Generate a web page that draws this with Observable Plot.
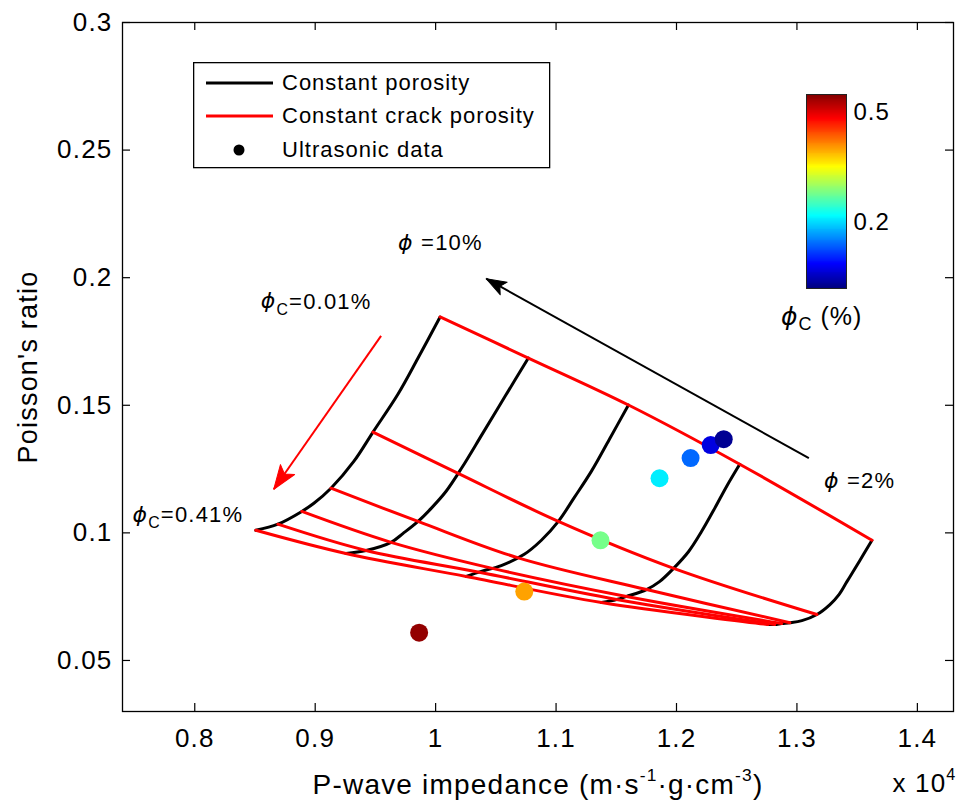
<!DOCTYPE html>
<html>
<head>
<meta charset="utf-8">
<script src="https://cdn.jsdelivr.net/npm/d3@7"></script>
<script src="https://cdn.jsdelivr.net/npm/@observablehq/plot@0.6"></script>
<style>
  html, body { margin: 0; padding: 0; background: #fff; }
  #chart { position: relative; width: 961px; height: 808px; font-family: "Liberation Sans", Arial, sans-serif; }
  #chart > svg { position: absolute; left: 0; top: 0; }
  .legend { position: absolute; left: 193px; top: 62px; }
  .colorbar { position: absolute; left: 806px; top: 92px; }
  .cb-label { position: absolute; left: 781px; top: 304px; font-size: 25px; letter-spacing: 1px; line-height: 25px; white-space: nowrap; }
  .cb-label i { font-family: "DejaVu Sans", sans-serif; }
  .cb-label sub { font-size: 72%; vertical-align: -0.3em; }
</style>
</head>
<body>
<div id="chart"></div>
<script>
// P-wave impedance in units of 10^4 m·s^-1·g·cm^-3, Poisson's ratio dimensionless.

// Porosity (%) of each constant-porosity curve, and crack porosity (%) of each constant-crack-porosity curve
const porosity = [10, 8, 6, 4, 2];
const crackPorosity = [0.01, 0.09, 0.17, 0.25, 0.33, 0.41];

// Constant porosity curves: [impedance, Poisson's ratio]
const phi10 = [[1.0037, 0.1846], [0.9854, 0.1685], [0.9688, 0.1544], [0.948, 0.1395], [0.9322, 0.1281],
               [0.9131, 0.1175], [0.8989, 0.1116], [0.8889, 0.1084], [0.869, 0.1034], [0.8507, 0.101]];
const phi8 = [[1.077, 0.1685], [1.0578, 0.1536], [1.0387, 0.1387], [1.022, 0.1257], [1.0087, 0.1163],
              [0.9963, 0.1096], [0.9854, 0.1045], [0.973, 0.0998], [0.963, 0.0963], [0.9422, 0.0931],
              [0.9255, 0.0919]];
const phi6 = [[1.1601, 0.1501], [1.1443, 0.1367], [1.1294, 0.1242], [1.1152, 0.1139], [1.1019, 0.1045],
              [1.0878, 0.0971], [1.0736, 0.0916], [1.0545, 0.0872], [1.0379, 0.0849], [1.0254, 0.0829]];
const phi4 = [[1.2525, 0.1269], [1.2417, 0.1183], [1.2317, 0.1096], [1.2209, 0.1006], [1.2101, 0.0927],
              [1.1976, 0.0861], [1.1859, 0.0809], [1.1751, 0.0778], [1.1585, 0.0751], [1.1502, 0.0739],
              [1.1377, 0.0727]];
const phi2 = [[1.3623, 0.0971], [1.3557, 0.0919], [1.3482, 0.086], [1.3415, 0.0809], [1.3349, 0.0758],
              [1.3274, 0.0719], [1.3166, 0.068], [1.3041, 0.0656], [1.2941, 0.0648], [1.2874, 0.0645],
              [1.2816, 0.0641], [1.2758, 0.0641]];

// Constant crack porosity curves: [impedance, Poisson's ratio]
const phiC001 = [[1.0037, 0.1846], [1.077, 0.1685], [1.1601, 0.1501], [1.2525, 0.1269], [1.3623, 0.0971]];
const phiC009 = [[0.948, 0.1395], [1.0187, 0.1233], [1.1019, 0.1045], [1.1976, 0.0861], [1.3166, 0.068]];
const phiC017 = [[0.9131, 0.1175], [0.9854, 0.1045], [1.0686, 0.0902], [1.1751, 0.0778], [1.2941, 0.0648]];
const phiC025 = [[0.8889, 0.1084], [0.963, 0.0963], [1.0462, 0.0862], [1.1585, 0.0751], [1.2874, 0.0645]];
const phiC033 = [[0.869, 0.1034], [0.9422, 0.0931], [1.0362, 0.0846], [1.1502, 0.0739], [1.2816, 0.0641]];
const phiC041 = [[0.8507, 0.101], [0.9255, 0.0919], [1.0254, 0.0829], [1.1377, 0.0727], [1.2758, 0.0641]];

// Ultrasonic measurements
const ultrasonicImpedance = [0.9863, 1.0736, 1.1369, 1.1859, 1.2117, 1.2284, 1.2392];
const ultrasonicPoisson = [0.0609, 0.077, 0.0971, 0.1214, 0.1293, 0.1344, 0.1367];
const ultrasonicCrack = [0.54, 0.40, 0.28, 0.21, 0.14, 0.07, 0.03];

// Axes
const xDomain = [0.74, 1.43];
const yDomain = [0.03, 0.3];
const xTicks = [0.8, 0.9, 1, 1.1, 1.2, 1.3, 1.4];
const yTicks = [0.05, 0.1, 0.15, 0.2, 0.25, 0.3];
const colorbarTicks = [0.2, 0.5];
const crackDomain = [0.02, 0.55];

// Curve annotations (anchored in data space)
const curveLabels = [
  {text: "ϕ =10%", x: 0.9688, y: 0.2135},
  {text: "ϕ_{C}=0.01%", x: 0.8548, y: 0.1907},
  {text: "ϕ_{C}=0.41%", x: 0.7483, y: 0.1071},
  {text: "ϕ =2%", x: 1.3224, y: 0.1204}
];
const porosityArrow = [{x1: 1.3099, y1: 0.1293, x2: 1.042, y2: 0.1996}];
const crackArrow = [{x1: 0.9547, y1: 0.1772, x2: 0.8656, y2: 0.1171}];

// ---------------------------------------------------------------------------

const W = 961, H = 808;
const M = {left: 122, right: 8, top: 22, bottom: 97};
const TICK = 8; // inward tick length, px

const blackRows = [phi10, phi8, phi6, phi4, phi2]
  .flatMap((pts, i) => pts.map(([x, y]) => ({x, y, phi: porosity[i]})));
const redRows = [phiC001, phiC009, phiC017, phiC025, phiC033, phiC041]
  .flatMap((pts, i) => pts.map(([x, y]) => ({x, y, phic: crackPorosity[i]})));
const dotRows = ultrasonicImpedance.map((x, i) => ({x, y: ultrasonicPoisson[i], phic: ultrasonicCrack[i]}));

// MATLAB "jet" colormap
const jet = d3.piecewise(d3.interpolateRgb, [
  "#000080", "#0000ff", "#0080ff", "#00ffff", "#80ff80", "#ffff00", "#ff8000", "#ff0000", "#800000"
]);

const font = '"Liberation Sans", Arial, sans-serif';

// Same mappings as the plot's x and y scales, used for pixel-sized ticks and arrow-head angles
const sx = d3.scaleLinear(xDomain, [M.left, W - M.right]);
const sy = d3.scaleLinear(yDomain, [H - M.bottom, M.top]);
const headAngle = (d) => Math.atan2(sx(d.x2) - sx(d.x1), -(sy(d.y2) - sy(d.y1))) * 180 / Math.PI;

// Filled, notched arrow head for the vector mark
const headShape = {draw(context, l) {
  const w = l * 0.36;
  context.moveTo(0, -l);
  context.lineTo(w, 0);
  context.lineTo(0, -l * 0.22);
  context.lineTo(-w, 0);
  context.closePath();
}};

// Turn ϕ, _{sub} and ^{sup} markup into styled tspans
function richText(root) {
  d3.select(root).selectAll("text").each(function () {
    const src = this.textContent;
    if (!/[ϕ_^]/.test(src)) return;
    const sel = d3.select(this);
    sel.text(null);
    let restore = null;
    for (const m of src.matchAll(/(ϕ)|_\{([^}]*)\}|\^\{([^}]*)\}|([^ϕ_^]+)/g)) {
      const t = sel.append("tspan");
      if (restore) { t.attr("dy", restore); restore = null; }
      if (m[1]) {
        t.text("ϕ").attr("font-style", "italic").attr("font-family", "DejaVu Sans, sans-serif");
      } else if (m[2] !== undefined) {
        t.text(m[2]).attr("font-size", "72%").attr("dy", "0.42em");
        restore = "-0.3em";
      } else if (m[3] !== undefined) {
        t.text(m[3]).attr("font-size", "62%").attr("dy", "-0.75em");
        restore = "0.465em";
      } else {
        t.text(m[4]);
      }
    }
  });
}

const tickStyle = {stroke: "black", strokeWidth: 1.2};

const chart = Plot.plot({
  width: W,
  height: H,
  marginLeft: M.left,
  marginRight: M.right,
  marginTop: M.top,
  marginBottom: M.bottom,
  style: {fontFamily: font, fontSize: "26px", letterSpacing: "1.2px", background: "white", color: "black"},
  x: {domain: xDomain},
  y: {domain: yDomain},
  color: {type: "linear", domain: crackDomain, interpolate: jet},
  marks: [
    // tick labels
    Plot.axisX({anchor: "bottom", ticks: xTicks, tickSize: 0, tickPadding: 17, tickFormat: String, label: null, fontSize: 26}),
    Plot.axisY({anchor: "left", ticks: yTicks, tickSize: 0, tickPadding: 10, tickFormat: String, label: null, fontSize: 26}),
    // inward tick marks on all four sides of the box
    Plot.ruleX(xTicks, {x: d => d, y1: yDomain[0], y2: sy.invert(H - M.bottom - TICK), ...tickStyle}),
    Plot.ruleX(xTicks, {x: d => d, y1: yDomain[1], y2: sy.invert(M.top + TICK), ...tickStyle}),
    Plot.ruleY(yTicks, {y: d => d, x1: xDomain[0], x2: sx.invert(M.left + TICK), ...tickStyle}),
    Plot.ruleY(yTicks, {y: d => d, x1: xDomain[1], x2: sx.invert(W - M.right - TICK), ...tickStyle}),
    // model grid
    Plot.line(blackRows, {x: "x", y: "y", z: "phi", stroke: "black", strokeWidth: 3, curve: "catmull-rom"}),
    Plot.line(redRows, {x: "x", y: "y", z: "phic", stroke: "#ff0000", strokeWidth: 3, curve: "catmull-rom"}),
    // measurements
    Plot.dot(dotRows, {x: "x", y: "y", fill: "phic", r: 9}),
    // trend arrows
    Plot.link(porosityArrow, {x1: "x1", y1: "y1", x2: "x2", y2: "y2", stroke: "black", strokeWidth: 2, strokeLinecap: "butt"}),
    Plot.vector(porosityArrow, {x: "x2", y: "y2", rotate: headAngle, length: 20, anchor: "end", shape: headShape, fill: "black", stroke: "black", strokeWidth: 1}),
    Plot.link(crackArrow, {x1: "x1", y1: "y1", x2: "x2", y2: "y2", stroke: "#ff0000", strokeWidth: 2, strokeLinecap: "butt"}),
    Plot.vector(crackArrow, {x: "x2", y: "y2", rotate: headAngle, length: 24, anchor: "end", shape: headShape, fill: "#ff0000", stroke: "#ff0000", strokeWidth: 1}),
    // annotations and axis titles
    Plot.text(curveLabels, {x: "x", y: "y", text: "text", textAnchor: "start", fontSize: 22}),
    Plot.text(["P-wave impedance (m·s^{-1}·g·cm^{-3})"], {frameAnchor: "bottom", text: d => d, textAnchor: "middle", lineAnchor: "middle",
                                                          dy: 74, fontSize: 28, letterSpacing: "1.8px"}),
    Plot.text(["Poisson's ratio"], {frameAnchor: "left", text: d => d, textAnchor: "middle", lineAnchor: "middle",
                                    rotate: -90, dx: -94, fontSize: 27, letterSpacing: "1.3px"}),
    Plot.text(["x 10^{4}"], {frameAnchor: "bottom-right", text: d => d, textAnchor: "end", lineAnchor: "middle",
                             dy: 72, dx: 3, fontSize: 26}),
    Plot.frame({stroke: "black", strokeWidth: 1.3})
  ]
});
richText(chart);

// Color bar for crack porosity
const bandStep = 0.0025;
const bands = d3.range(crackDomain[0], crackDomain[1], bandStep);
const colorbar = Plot.plot({
  width: 90,
  height: 198,
  marginTop: 2,
  marginBottom: 2,
  marginLeft: 0,
  marginRight: 50,
  style: {fontFamily: font, fontSize: "24px", letterSpacing: "1px", background: "transparent", color: "black"},
  x: {domain: [0, 1], axis: null},
  y: {domain: crackDomain},
  color: {type: "linear", domain: crackDomain, interpolate: jet},
  marks: [
    Plot.rect(bands, {x1: () => 0, x2: () => 1, y1: d => d, y2: d => Math.min(d + bandStep * 1.5, crackDomain[1]),
                      fill: d => d + bandStep / 2, shapeRendering: "crispEdges"}),
    Plot.axisY({anchor: "right", ticks: colorbarTicks, tickSize: 0, tickPadding: 7, tickFormat: String, label: null, fontSize: 24}),
    Plot.frame({stroke: "#222", strokeWidth: 1})
  ]
});

// Legend
const legend = document.createElement("div");
legend.className = "legend";
legend.innerHTML = `
<svg width="358" height="107" style="font-family:${font.replace(/"/g, "'")};font-size:22px;letter-spacing:1px">
  <rect x="0.65" y="0.65" width="356" height="105" fill="white" stroke="black" stroke-width="1.3"/>
  <line x1="13" x2="80" y1="21" y2="21" stroke="black" stroke-width="3"/>
  <line x1="13" x2="80" y1="54" y2="54" stroke="#ff0000" stroke-width="3"/>
  <circle cx="46" cy="88" r="5.5" fill="black"/>
  <text x="89" y="28">Constant porosity</text>
  <text x="89" y="61">Constant crack porosity</text>
  <text x="89" y="95">Ultrasonic data</text>
</svg>`;

const cbWrap = document.createElement("div");
cbWrap.className = "colorbar";
cbWrap.appendChild(colorbar);

const cbLabel = document.createElement("div");
cbLabel.className = "cb-label";
cbLabel.innerHTML = "<i>ϕ</i><sub>C</sub> (%)";

const root = document.getElementById("chart");
root.appendChild(chart);
root.appendChild(legend);
root.appendChild(cbWrap);
root.appendChild(cbLabel);
</script>
</body>
</html>
